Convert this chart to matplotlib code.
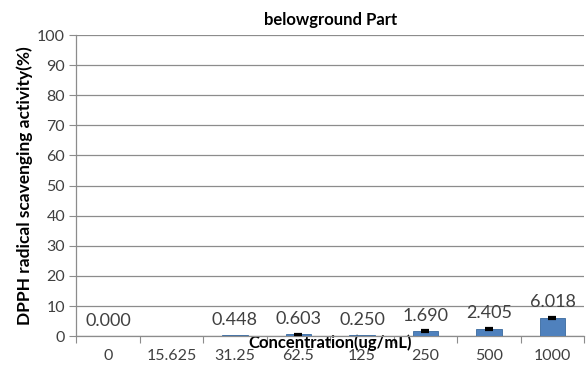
import matplotlib
matplotlib.use("Agg")
import matplotlib.pyplot as plt
import numpy as np

plt.rcParams['font.family'] = ['Lato', 'DejaVu Sans']

categories = ["0", "15.625", "31.25", "62.5", "125", "250", "500", "1000"]
values = [0.000, -0.20, 0.448, 0.603, 0.250, 1.690, 2.405, 6.018]
errors = [0.0, 0.0, 0.0, 0.15, 0.0, 0.20, 0.25, 0.25]
labels = ["0.000", "", "0.448", "0.603", "0.250", "1.690", "2.405", "6.018"]

bar_color = "#4F81BD"
text_gray = "#404040"
grid_gray = "#8C8C8C"

fig = plt.figure(figsize=(5.86, 3.69), dpi=100)
ax = fig.add_axes([0.130, 0.089, 0.867, 0.816])

x = np.arange(len(categories))
ax.bar(x, values, width=0.40, color=bar_color, edgecolor="#3A6A9E", linewidth=0.6, zorder=3)
has_err = [e > 0 for e in errors]
ax.errorbar(x[has_err], np.array(values)[has_err], yerr=np.array(errors)[has_err],
            fmt="none", ecolor="black", elinewidth=1.4, capsize=3, capthick=1.6, zorder=4)

for xi, v, e, lab in zip(x, values, errors, labels):
    if lab:
        ax.annotate(lab, (xi, max(v, 0) + e), xytext=(0, 5), textcoords="offset points",
                    ha="center", va="bottom", fontsize=13, color=text_gray)

ax.set_xlim(-0.5, len(categories) - 0.5)
ax.set_ylim(0, 100)
ax.set_yticks(np.arange(0, 101, 10))
ax.yaxis.grid(True, color=grid_gray, linewidth=0.9)
ax.set_axisbelow(True)

# category ticks sit on the boundaries, labels on the centres
ax.set_xticks(np.arange(-0.5, len(categories), 1.0))
ax.set_xticklabels([])
ax.set_xticks(x, minor=True)
ax.set_xticklabels(categories, minor=True)
ax.tick_params(axis="x", which="major", length=5, color=grid_gray, direction="out")
ax.tick_params(axis="x", which="minor", length=0, pad=9, labelsize=11.5, labelcolor=text_gray)
ax.tick_params(axis="y", length=5, color=grid_gray, labelsize=11.5, labelcolor=text_gray, pad=3)

for side in ("top", "right"):
    ax.spines[side].set_visible(False)
for side in ("left", "bottom"):
    ax.spines[side].set_color(grid_gray)
    ax.spines[side].set_linewidth(0.9)

ax.set_title("belowground Part", fontsize=12, fontweight="bold", pad=7)
ax.set_ylabel("DPPH radical scavenging activity(%)", fontsize=12.5, fontweight="bold", labelpad=3)
ax.set_xlabel("Concentration(ug/mL)", fontsize=12, fontweight="bold")
ax.xaxis.label.set_va("center")
ax.xaxis.set_label_coords(0.5, -0.022)

fig.savefig("out.png", dpi=100, facecolor="white")
